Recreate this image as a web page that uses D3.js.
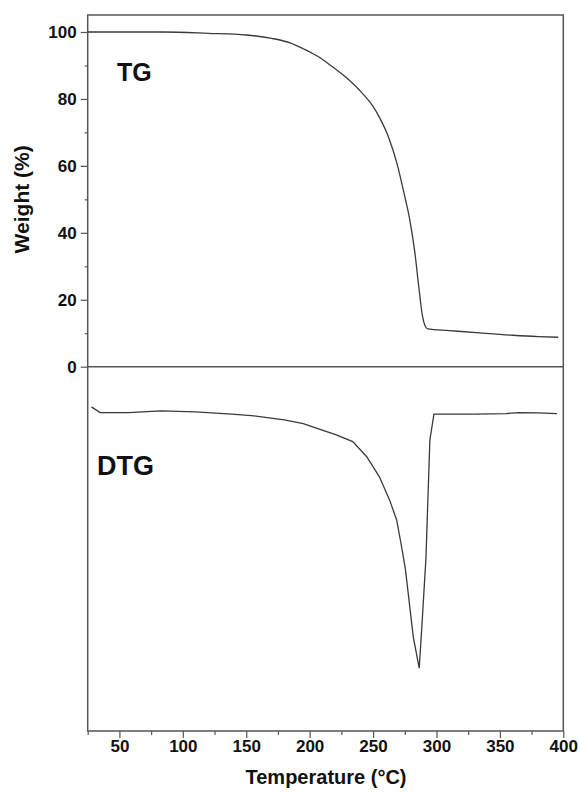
<!DOCTYPE html>
<html><head><meta charset="utf-8">
<script src="https://cdn.jsdelivr.net/npm/d3@7"></script>
<style>body{margin:0;background:#fff}svg{display:block}text{font-family:"Liberation Sans",Arial,sans-serif;font-weight:bold;fill:#111}</style>
</head><body>
<script>
const tgTemp = [25,85,120,150,170,185,195,207,218,230,242,250,255,262,269,274,279,283,286,289,291,293,310,334,360,380,396];
const tgWeight = [100,100,99.6,99.1,98.1,96.7,95,92.6,89.6,86,81.5,77.8,74.5,68.8,60.5,52.5,43.8,34,24,15,12.2,11.3,10.8,10.1,9.4,9,8.8];
const dtgTemp = [28,34.7,57,83,110,138.5,154,180,195,207,220,234,245,255,263,268.6,272.5,275.5,281.7,286.4,288.3,291.7,294.8,298,330,355,365,380,395];
const dtgValue = [-12,-13.7,-13.7,-13.2,-13.5,-14.2,-14.6,-15.9,-17,-18.6,-20.2,-22.4,-26.9,-32.9,-39.8,-45.8,-53.8,-60.5,-80.7,-90.1,-78.7,-57.2,-21.9,-14.2,-14.2,-14.0,-13.7,-13.8,-14.0];
const xMajorTicks = [50,100,150,200,250,300,350,400];
const xMinorTicks = [25,75,125,175,225,275,325,375];
const yMajorTicks = [0,20,40,60,80,100];
const yMinorTicks = [10,30,50,70,90];

const W = 579, H = 794;
const L = 87.7, R = 563.3, T = 15, B = 731;
const svg = d3.select("body").append("svg").attr("width", W).attr("height", H);
const x = d3.scaleLinear().domain([25, 400]).range([L, R]);
const y = d3.scaleLinear().domain([-108.85, 105.08]).range([B, T]);

const axisColor = "#555";
const gx = svg.append("g").attr("transform", `translate(0,${B})`);
gx.call(d3.axisBottom(x).tickValues(xMajorTicks).tickSize(7).tickPadding(2).tickFormat(d3.format("d")));
gx.append("g").call(d3.axisBottom(x).tickValues(xMinorTicks).tickSize(4).tickFormat(""));
const gy = svg.append("g").attr("transform", `translate(${L},0)`);
gy.call(d3.axisLeft(y).tickValues(yMajorTicks).tickSize(7).tickPadding(4).tickFormat(d3.format("d")));
gy.append("g").call(d3.axisLeft(y).tickValues(yMinorTicks).tickSize(3).tickFormat(""));
svg.selectAll(".domain").remove();
svg.selectAll(".tick line").attr("stroke", axisColor).attr("stroke-width", 1.2);
svg.selectAll(".tick text").style("font-size", "17px").style("font-family", "'Liberation Sans', Arial, sans-serif").style("font-weight", "bold").attr("fill", "#111");

svg.append("rect").attr("x", L).attr("y", T).attr("width", R - L).attr("height", B - T)
  .attr("fill", "none").attr("stroke", axisColor).attr("stroke-width", 1.5);
svg.append("line").attr("x1", L).attr("x2", R).attr("y1", y(0)).attr("y2", y(0))
  .attr("stroke", axisColor).attr("stroke-width", 1.5);

const tgLine = d3.line().x(d => x(d[0])).y(d => y(d[1])).curve(d3.curveMonotoneX);
const line = d3.line().x(d => x(d[0])).y(d => y(d[1]));
svg.append("path").datum(d3.zip(tgTemp, tgWeight)).attr("d", tgLine)
  .attr("fill", "none").attr("stroke", "#3a3a3a").attr("stroke-width", 1.3);
svg.append("path").datum(d3.zip(dtgTemp, dtgValue)).attr("d", line)
  .attr("fill", "none").attr("stroke", "#3a3a3a").attr("stroke-width", 1.3);

svg.append("text").attr("x", 117).attr("y", 81).style("font-size", "25px").text("TG");
svg.append("text").attr("x", 97).attr("y", 475).style("font-size", "27px").text("DTG");

svg.append("text").attr("x", 326).attr("y", 784).attr("text-anchor", "middle")
  .style("font-size", "20px").text("Temperature (°C)");
svg.append("text").attr("transform", `translate(29,${(y(0)+y(100))/2}) rotate(-90)`)
  .attr("text-anchor", "middle").style("font-size", "21px").text("Weight (%)");
</script>
</body></html>
